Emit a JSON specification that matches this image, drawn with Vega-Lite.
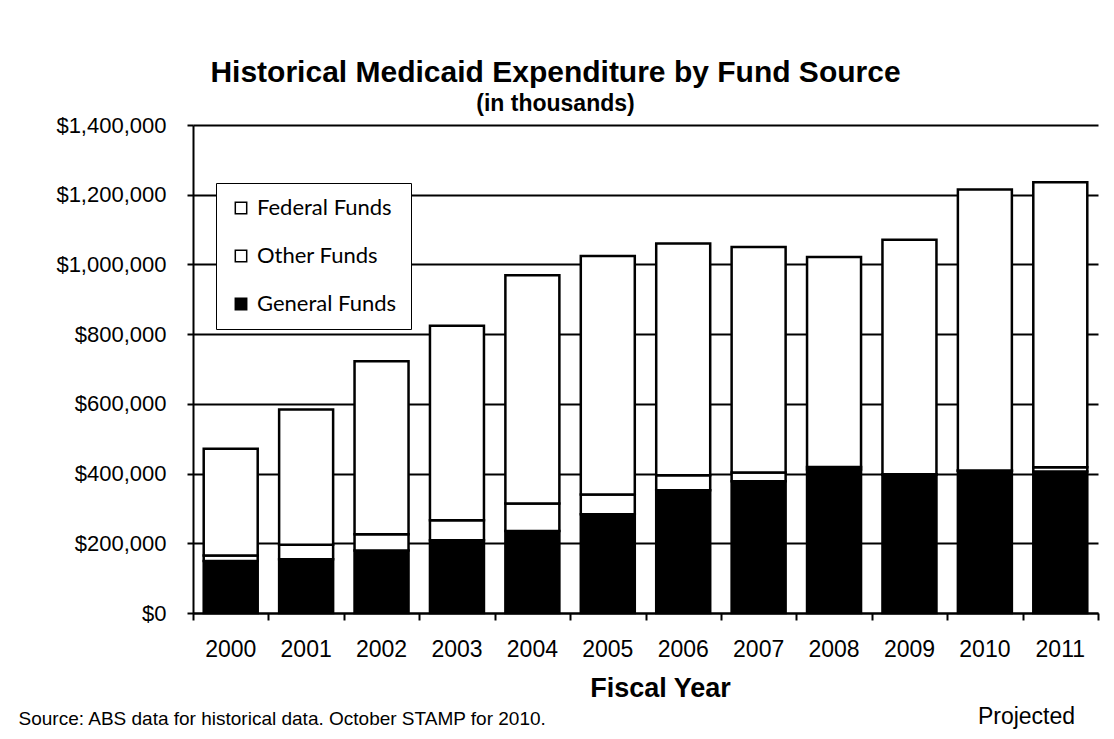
{
  "$schema": "https://vega.github.io/schema/vega-lite/v6.json",
  "width": 905,
  "height": 488,
  "autosize": "none",
  "padding": {"left": 193, "top": 125, "right": 16, "bottom": 126},
  "background": "white",
  "config": {"font": "Liberation Sans", "view": {"stroke": null}},
  "title": {
    "text": "Historical Medicaid Expenditure by Fund Source",
    "subtitle": "(in thousands)",
    "anchor": "middle",
    "dx": -90,
    "fontSize": 30,
    "fontWeight": "bold",
    "color": "black",
    "subtitleFontSize": 23,
    "subtitleFontWeight": "bold",
    "subtitleColor": "black",
    "subtitlePadding": 5,
    "offset": -2
  },
  "datasets": {
    "funds": [
      {"year": "2000", "fund": "General Funds", "value": 149000},
      {"year": "2000", "fund": "Other Funds", "value": 16000},
      {"year": "2000", "fund": "Federal Funds", "value": 306000},
      {"year": "2001", "fund": "General Funds", "value": 154000},
      {"year": "2001", "fund": "Other Funds", "value": 42000},
      {"year": "2001", "fund": "Federal Funds", "value": 388000},
      {"year": "2002", "fund": "General Funds", "value": 179000},
      {"year": "2002", "fund": "Other Funds", "value": 47000},
      {"year": "2002", "fund": "Federal Funds", "value": 496000},
      {"year": "2003", "fund": "General Funds", "value": 209000},
      {"year": "2003", "fund": "Other Funds", "value": 57000},
      {"year": "2003", "fund": "Federal Funds", "value": 558000},
      {"year": "2004", "fund": "General Funds", "value": 235000},
      {"year": "2004", "fund": "Other Funds", "value": 79000},
      {"year": "2004", "fund": "Federal Funds", "value": 655000},
      {"year": "2005", "fund": "General Funds", "value": 283000},
      {"year": "2005", "fund": "Other Funds", "value": 57000},
      {"year": "2005", "fund": "Federal Funds", "value": 684000},
      {"year": "2006", "fund": "General Funds", "value": 352000},
      {"year": "2006", "fund": "Other Funds", "value": 43000},
      {"year": "2006", "fund": "Federal Funds", "value": 665000},
      {"year": "2007", "fund": "General Funds", "value": 378000},
      {"year": "2007", "fund": "Other Funds", "value": 25000},
      {"year": "2007", "fund": "Federal Funds", "value": 647000},
      {"year": "2008", "fund": "General Funds", "value": 412000},
      {"year": "2008", "fund": "Other Funds", "value": 7000},
      {"year": "2008", "fund": "Federal Funds", "value": 602000},
      {"year": "2009", "fund": "General Funds", "value": 397000},
      {"year": "2009", "fund": "Other Funds", "value": 1000},
      {"year": "2009", "fund": "Federal Funds", "value": 673000},
      {"year": "2010", "fund": "General Funds", "value": 408000},
      {"year": "2010", "fund": "Other Funds", "value": 1000},
      {"year": "2010", "fund": "Federal Funds", "value": 806000},
      {"year": "2011", "fund": "General Funds", "value": 406000},
      {"year": "2011", "fund": "Other Funds", "value": 12000},
      {"year": "2011", "fund": "Federal Funds", "value": 818000}
    ],
    "boundaries": [
      {"slot": 0}, {"slot": 12}
    ]
  },
  "layer": [
    {
      "data": {"name": "funds"},
      "transform": [
        {"calculate": "indexof(['General Funds','Other Funds','Federal Funds'], datum.fund)", "as": "stackOrder"}
      ],
      "mark": {"type": "bar", "stroke": "black", "strokeWidth": 2.5},
      "encoding": {
        "x": {
          "field": "year",
          "type": "ordinal",
          "scale": {"paddingInner": 0.284, "paddingOuter": 0.142},
          "axis": {
            "orient": "bottom",
            "labelAngle": 0,
            "labelFontSize": 23,
            "labelColor": "black",
            "ticks": false,
            "labelPadding": 25,
            "domainColor": "black",
            "domainWidth": 2,
            "grid": false,
            "title": "Fiscal Year",
            "titleFontSize": 27,
            "titleFontWeight": "bold",
            "titleColor": "black",
            "titlePadding": 14,
            "titleX": 467,
            "titleAlign": "center"
          }
        },
        "y": {
          "field": "value",
          "type": "quantitative",
          "stack": "zero",
          "scale": {"domain": [0, 1400000], "nice": false},
          "axis": {
            "values": [0, 200000, 400000, 600000, 800000, 1000000, 1200000, 1400000],
            "format": "$,.0f",
            "labelFontSize": 22,
            "labelColor": "black",
            "labelPadding": 21,
            "tickSize": 6,
            "tickWidth": 2,
            "tickColor": "black",
            "domainColor": "black",
            "domainWidth": 2,
            "grid": true,
            "gridColor": "black",
            "gridWidth": 2,
            "title": "Projected",
            "titleAngle": 0,
            "titleX": 833,
            "titleY": 591,
            "titleAlign": "center",
            "titleBaseline": "middle",
            "titleFontSize": 23,
            "titleFontWeight": "normal",
            "titleColor": "black"
          }
        },
        "color": {
          "field": "fund",
          "type": "nominal",
          "scale": {
            "domain": ["Federal Funds", "Other Funds", "General Funds"],
            "range": ["white", "white", "black"]
          },
          "legend": {
            "title": null,
            "orient": "none",
            "legendX": 23,
            "legendY": 58,
            "fillColor": "white",
            "strokeColor": "black",
            "padding": 14,
            "rowPadding": 26,
            "symbolType": "square",
            "symbolSize": 130,
            "symbolStrokeColor": "black",
            "symbolStrokeWidth": 1.5,
            "symbolOpacity": 1,
            "labelFont": "Lato",
            "labelFontSize": 22,
            "labelColor": "black",
            "labelOffset": 5,
            "labelLimit": 300
          }
        },
        "order": {"field": "stackOrder", "type": "quantitative"}
      }
    },
    {
      "data": {"name": "boundaries"},
      "mark": {"type": "rule", "opacity": 0},
      "encoding": {
        "x": {
          "field": "slot",
          "type": "quantitative",
          "scale": {"domain": [0, 12], "nice": false, "zero": false},
          "axis": {
            "orient": "bottom",
            "values": [0, 1, 2, 3, 4, 5, 6, 7, 8, 9, 10, 11, 12],
            "labels": false,
            "domain": false,
            "grid": false,
            "ticks": true,
            "tickSize": 7,
            "tickWidth": 2,
            "tickColor": "black",
            "title": "Source: ABS data for historical data.  October STAMP for 2010.",
            "titleX": -175,
            "titleY": 105,
            "titleAlign": "left",
            "titleBaseline": "middle",
            "titleFontSize": 19,
            "titleFontWeight": "normal",
            "titleColor": "black"
          }
        }
      }
    }
  ],
  "resolve": {"scale": {"x": "independent"}, "axis": {"x": "independent"}}
}
